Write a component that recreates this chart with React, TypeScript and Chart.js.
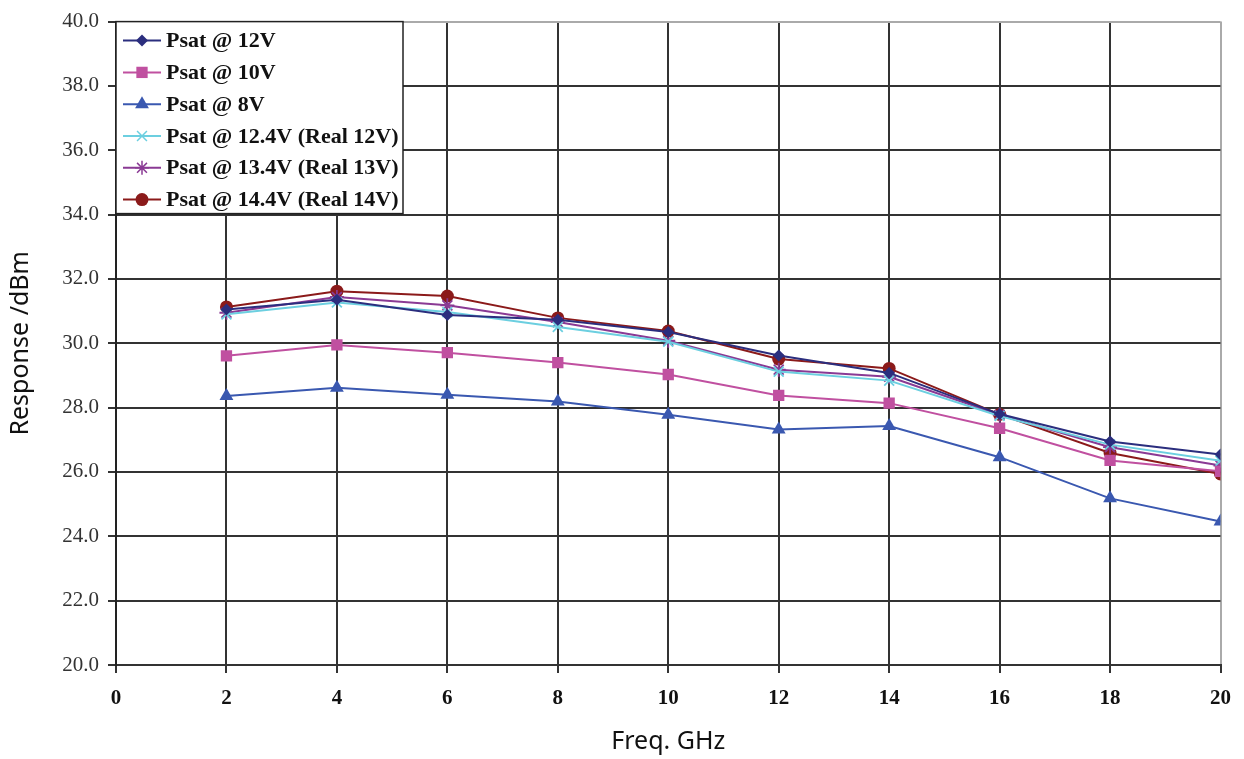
import React, { useEffect, useRef } from "react";
import { Chart, registerables } from "chart.js";

Chart.register(...registerables);

const freqs = [2, 4, 6, 8, 10, 12, 14, 16, 18, 20];
const psat12 = [31.05, 31.35, 30.88, 30.73, 30.35, 29.62, 29.08, 27.8, 26.95, 26.54];
const psat10 = [29.61, 29.95, 29.71, 29.4, 29.03, 28.38, 28.14, 27.36, 26.36, 26.02];
const psat8 = [28.36, 28.62, 28.4, 28.19, 27.78, 27.32, 27.43, 26.46, 25.18, 24.46];
const psat124 = [30.9, 31.27, 30.97, 30.51, 30.05, 29.12, 28.84, 27.74, 26.85, 26.35];
const psat134 = [30.95, 31.44, 31.18, 30.66, 30.08, 29.18, 28.96, 27.78, 26.77, 26.2];
const psat144 = [31.13, 31.62, 31.47, 30.79, 30.38, 29.51, 29.22, 27.79, 26.59, 25.94];

const labels = [
  "Psat @ 12V",
  "Psat @ 10V",
  "Psat @ 8V",
  "Psat @ 12.4V (Real 12V)",
  "Psat @ 13.4V (Real 13V)",
  "Psat @ 14.4V (Real 14V)",
];
const colors = ["#2B2E7E", "#C050A0", "#3A58B0", "#6CCFE0", "#8A3A94", "#8B1A1A"];
const styles = ["rectRot", "rect", "triangle", "crossRot", "star", "circle"];
const radii = [6, 8, 8, 7, 7, 6.5];
const seriesValues = [psat12, psat10, psat8, psat124, psat134, psat144];

const xTicks = [0, 2, 4, 6, 8, 10, 12, 14, 16, 18, 20];
const yTicks = [20, 22, 24, 26, 28, 30, 32, 34, 36, 38, 40];

function drawMarker(ctx: CanvasRenderingContext2D, style: string, x: number, y: number, r: number, color: string) {
  ctx.save();
  ctx.fillStyle = color;
  ctx.strokeStyle = color;
  ctx.lineWidth = 1.5;
  ctx.beginPath();
  if (style === "circle") {
    ctx.arc(x, y, r, 0, Math.PI * 2);
    ctx.fill();
  } else if (style === "rect") {
    const s = Math.SQRT1_2 * r;
    ctx.rect(x - s, y - s, 2 * s, 2 * s);
    ctx.fill();
  } else if (style === "rectRot") {
    ctx.moveTo(x, y - r);
    ctx.lineTo(x + r, y);
    ctx.lineTo(x, y + r);
    ctx.lineTo(x - r, y);
    ctx.closePath();
    ctx.fill();
  } else if (style === "triangle") {
    for (let i = 0; i < 3; i++) {
      const a = -Math.PI / 2 + (i * 2 * Math.PI) / 3;
      const px = x + Math.cos(a) * r;
      const py = y + Math.sin(a) * r;
      if (i === 0) ctx.moveTo(px, py);
      else ctx.lineTo(px, py);
    }
    ctx.closePath();
    ctx.fill();
  } else if (style === "crossRot" || style === "star") {
    const d = Math.SQRT1_2 * r;
    ctx.moveTo(x - d, y - d);
    ctx.lineTo(x + d, y + d);
    ctx.moveTo(x - d, y + d);
    ctx.lineTo(x + d, y - d);
    if (style === "star") {
      ctx.moveTo(x, y - r);
      ctx.lineTo(x, y + r);
      ctx.moveTo(x - r, y);
      ctx.lineTo(x + r, y);
    }
    ctx.stroke();
  }
  ctx.restore();
}

const legendPlugin = {
  id: "boxLegend",
  afterDraw(chart: any) {
    const ctx = chart.ctx as CanvasRenderingContext2D;
    const left = chart.chartArea.left;
    const top = chart.chartArea.top;
    const w = 287;
    const h = 192;
    ctx.save();
    ctx.fillStyle = "#ffffff";
    ctx.fillRect(left, top, w, h);
    ctx.strokeStyle = "#222";
    ctx.lineWidth = 1.5;
    ctx.strokeRect(left, top, w, h);
    ctx.font = "bold 22px 'Liberation Serif', 'Times New Roman', serif";
    ctx.textBaseline = "middle";
    const rowH = 31.8;
    for (let i = 0; i < labels.length; i++) {
      const cy = top + 19 + i * rowH;
      ctx.strokeStyle = colors[i];
      ctx.lineWidth = 2;
      ctx.beginPath();
      ctx.moveTo(left + 7, cy);
      ctx.lineTo(left + 45, cy);
      ctx.stroke();
      drawMarker(ctx, styles[i], left + 26, cy, radii[i], colors[i]);
      ctx.fillStyle = "#111";
      ctx.fillText(labels[i], left + 50, cy + 1);
    }
    ctx.restore();
  },
};

export default function App() {
  const ref = useRef<HTMLCanvasElement | null>(null);
  useEffect(() => {
    document.body.style.margin = "0";
    if (!ref.current) return;
    const chart = new Chart(ref.current, {
      type: "line",
      data: {
        datasets: seriesValues.map((vals, i) => ({
          label: labels[i],
          data: freqs.map((f, j) => ({ x: f, y: vals[j] })),
          borderColor: colors[i],
          backgroundColor: colors[i],
          borderWidth: 2,
          pointStyle: styles[i] as any,
          pointRadius: radii[i],
          pointBorderWidth: styles[i] === "crossRot" || styles[i] === "star" ? 1.8 : 0,
          pointBorderColor: colors[i],
          pointBackgroundColor: colors[i],
          tension: 0,
        })),
      },
      options: {
        animation: false,
        responsive: true,
        maintainAspectRatio: false,
        layout: { padding: { left: 0, right: 22, top: 18, bottom: 0 } },
        plugins: {
          legend: { display: false },
          tooltip: { enabled: false },
        },
        scales: {
          x: {
            type: "linear",
            min: 0,
            max: 20,
            afterBuildTicks: (scale: any) => {
              scale.ticks = xTicks.map((v) => ({ value: v }));
            },
            afterFit: (scale: any) => {
              scale.height = 94;
            },
            ticks: {
              font: { family: "'Liberation Serif', 'Times New Roman', serif", size: 21, weight: "bold" },
              color: "#111",
              padding: 13,
              maxRotation: 0,
            },
            grid: {
              color: (c: any) => (c.tick && c.tick.value === 20 ? "#aaaaaa" : "#333333"),
              lineWidth: 2,
              tickLength: 8,
              tickColor: "#333333",
            },
            border: { display: true, color: "#333333", width: 2 },
            title: {
              display: true,
              text: "Freq. GHz",
              font: { family: "'Noto Sans', 'Open Sans', sans-serif", size: 25 },
              color: "#111",
              padding: { top: 0, bottom: 2 },
            },
          },
          y: {
            type: "linear",
            min: 20,
            max: 40,
            afterBuildTicks: (scale: any) => {
              scale.ticks = yTicks.map((v) => ({ value: v }));
            },
            afterFit: (scale: any) => {
              scale.width = 116;
            },
            ticks: {
              font: { family: "'Liberation Serif', 'Times New Roman', serif", size: 21 },
              color: "#333",
              padding: 9,
              callback: (v: any) => Number(v).toFixed(1),
            },
            grid: {
              color: (c: any) => (c.tick && c.tick.value === 40 ? "#aaaaaa" : "#333333"),
              lineWidth: 2,
              tickLength: 8,
              tickColor: "#333333",
            },
            border: { display: true, color: "#222222", width: 2 },
            title: {
              display: true,
              text: "Response /dBm",
              font: { family: "'Noto Sans', 'Open Sans', sans-serif", size: 25 },
              color: "#111",
              padding: { top: 6, bottom: 0 },
            },
          },
        },
      },
      plugins: [legendPlugin],
    });
    return () => chart.destroy();
  }, []);
  return (
    <div style={{ width: 1244, height: 759, position: "relative" }}>
      <canvas ref={ref} />
    </div>
  );
}
